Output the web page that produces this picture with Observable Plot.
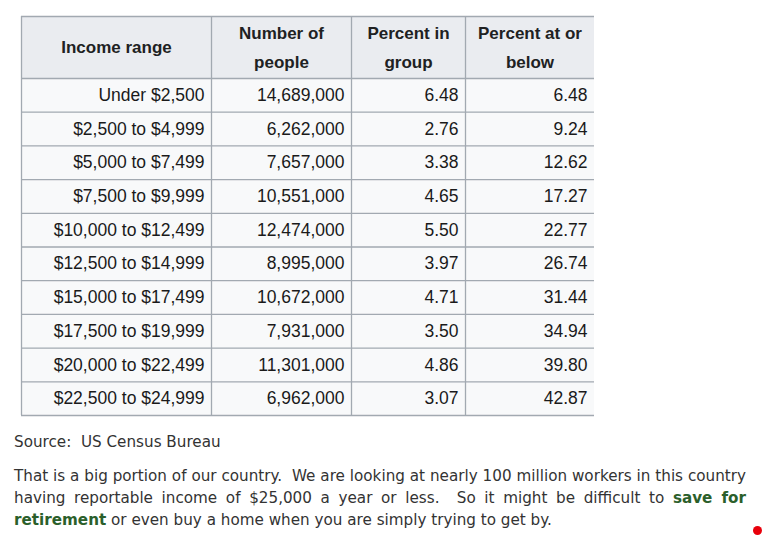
<!DOCTYPE html>
<html>
<head>
<meta charset="utf-8">
<script src="https://cdn.jsdelivr.net/npm/d3@7"></script>
<script src="https://cdn.jsdelivr.net/npm/@observablehq/plot@0.6"></script>
<style>
  html, body { margin: 0; padding: 0; background: #fff; }
  body { width: 762px; height: 535px; position: relative; overflow: hidden; }
  #chart svg { display: block; }
  .source, .para {
    font-family: "DejaVu Sans", Verdana, sans-serif;
    font-size: 15.2px;
    color: #333;
    margin-left: 14px;
    width: 732px;
    line-height: 22px;
  }
  .source { margin-top: 11px; }
  .para { margin-top: 12px; text-align: justify; }
  .para b { color: #2b5f2b; }
  .dot { position: absolute; left: 753px; top: 526px; width: 9px; height: 9px; border-radius: 50%; background: #e8000b; }
</style>
</head>
<body>
<div id="chart"></div>
<div class="source">Source:&nbsp; US Census Bureau</div>
<div class="para">That is a big portion of our country.&nbsp; We are looking at nearly 100 million workers in this country having reportable income of $25,000 a year or less.&nbsp; So it might be difficult to <b>save for retirement</b> or even buy a home when you are simply trying to get by.</div>
<div class="dot"></div>
<script>
// ---- data ----
const headers = ["Income range", "Number of\npeople", "Percent in\ngroup", "Percent at or\nbelow"];
const incomeRanges = [
  "Under $2,500", "$2,500 to $4,999", "$5,000 to $7,499", "$7,500 to $9,999",
  "$10,000 to $12,499", "$12,500 to $14,999", "$15,000 to $17,499",
  "$17,500 to $19,999", "$20,000 to $22,499", "$22,500 to $24,999"
];
const people = [14689000, 6262000, 7657000, 10551000, 12474000, 8995000, 10672000, 7931000, 11301000, 6962000];
const pctInGroup = [6.48, 2.76, 3.38, 4.65, 5.50, 3.97, 4.71, 3.50, 4.86, 3.07];
const pctAtOrBelow = [6.48, 9.24, 12.62, 17.27, 22.77, 26.74, 31.44, 34.94, 39.80, 42.87];

// ---- layout (table geometry) ----
const colW = [190, 140, 114, 129];
const colEdges = [0];
colW.forEach(w => colEdges.push(colEdges[colEdges.length - 1] + w));
const totalW = colEdges[colEdges.length - 1];
const headH = 62, rowH = 33.7;
const totalH = headH + rowH * incomeRanges.length;
const pad = 7;

const fmtN = d3.format(",");
const rows = incomeRanges.map((r, i) => ({
  i,
  cells: [r, fmtN(people[i]), pctInGroup[i].toFixed(2), pctAtOrBelow[i].toFixed(2)]
}));

const headerCells = headers.map((h, j) => ({x1: colEdges[j], x2: colEdges[j + 1], y1: 0, y2: headH, text: h}));
const bodyCells = [];
rows.forEach(r => r.cells.forEach((t, j) => bodyCells.push({
  x1: colEdges[j], x2: colEdges[j + 1], y1: headH + r.i * rowH, y2: headH + (r.i + 1) * rowH, text: t
})));
const hLines = [0, headH, ...rows.map(r => headH + (r.i + 1) * rowH)];
const vLines = colEdges.slice(0, -1);

const font = "'Liberation Sans', Arial, Helvetica, sans-serif";
const chart = Plot.plot({
  width: 762,
  height: 420,
  marginLeft: 21,
  marginRight: 762 - 21 - totalW,
  marginTop: 16,
  marginBottom: 420 - 16 - totalH,
  x: {type: "linear", domain: [0, totalW], axis: null},
  y: {type: "linear", domain: [0, totalH], range: [16, 16 + totalH], axis: null},
  style: {fontFamily: font, background: "#fff"},
  marks: [
    Plot.rect(headerCells, {x1: "x1", x2: "x2", y1: "y1", y2: "y2", fill: "#eaecf0"}),
    Plot.rect(bodyCells, {x1: "x1", x2: "x2", y1: "y1", y2: "y2", fill: "#f8f9fa"}),
    Plot.ruleY(hLines, {x1: 0, x2: totalW, stroke: "#a2a9b1", strokeWidth: 1.3}),
    Plot.ruleX(vLines, {y1: 0, y2: totalH, stroke: "#a2a9b1", strokeWidth: 1.3}),
    Plot.text(headerCells, {
      x: d => (d.x1 + d.x2) / 2, y: d => (d.y1 + d.y2) / 2, text: "text",
      fontSize: 17, fontWeight: "bold", fill: "#202122", lineHeight: 1.65, textAnchor: "middle", dy: -3
    }),
    Plot.text(bodyCells, {
      x: d => d.x2 - pad, y: d => (d.y1 + d.y2) / 2, text: "text",
      fontSize: 17.5, fill: "#1a1a1a", textAnchor: "end"
    })
  ]
});
document.getElementById("chart").appendChild(chart);
</script>
</body>
</html>
